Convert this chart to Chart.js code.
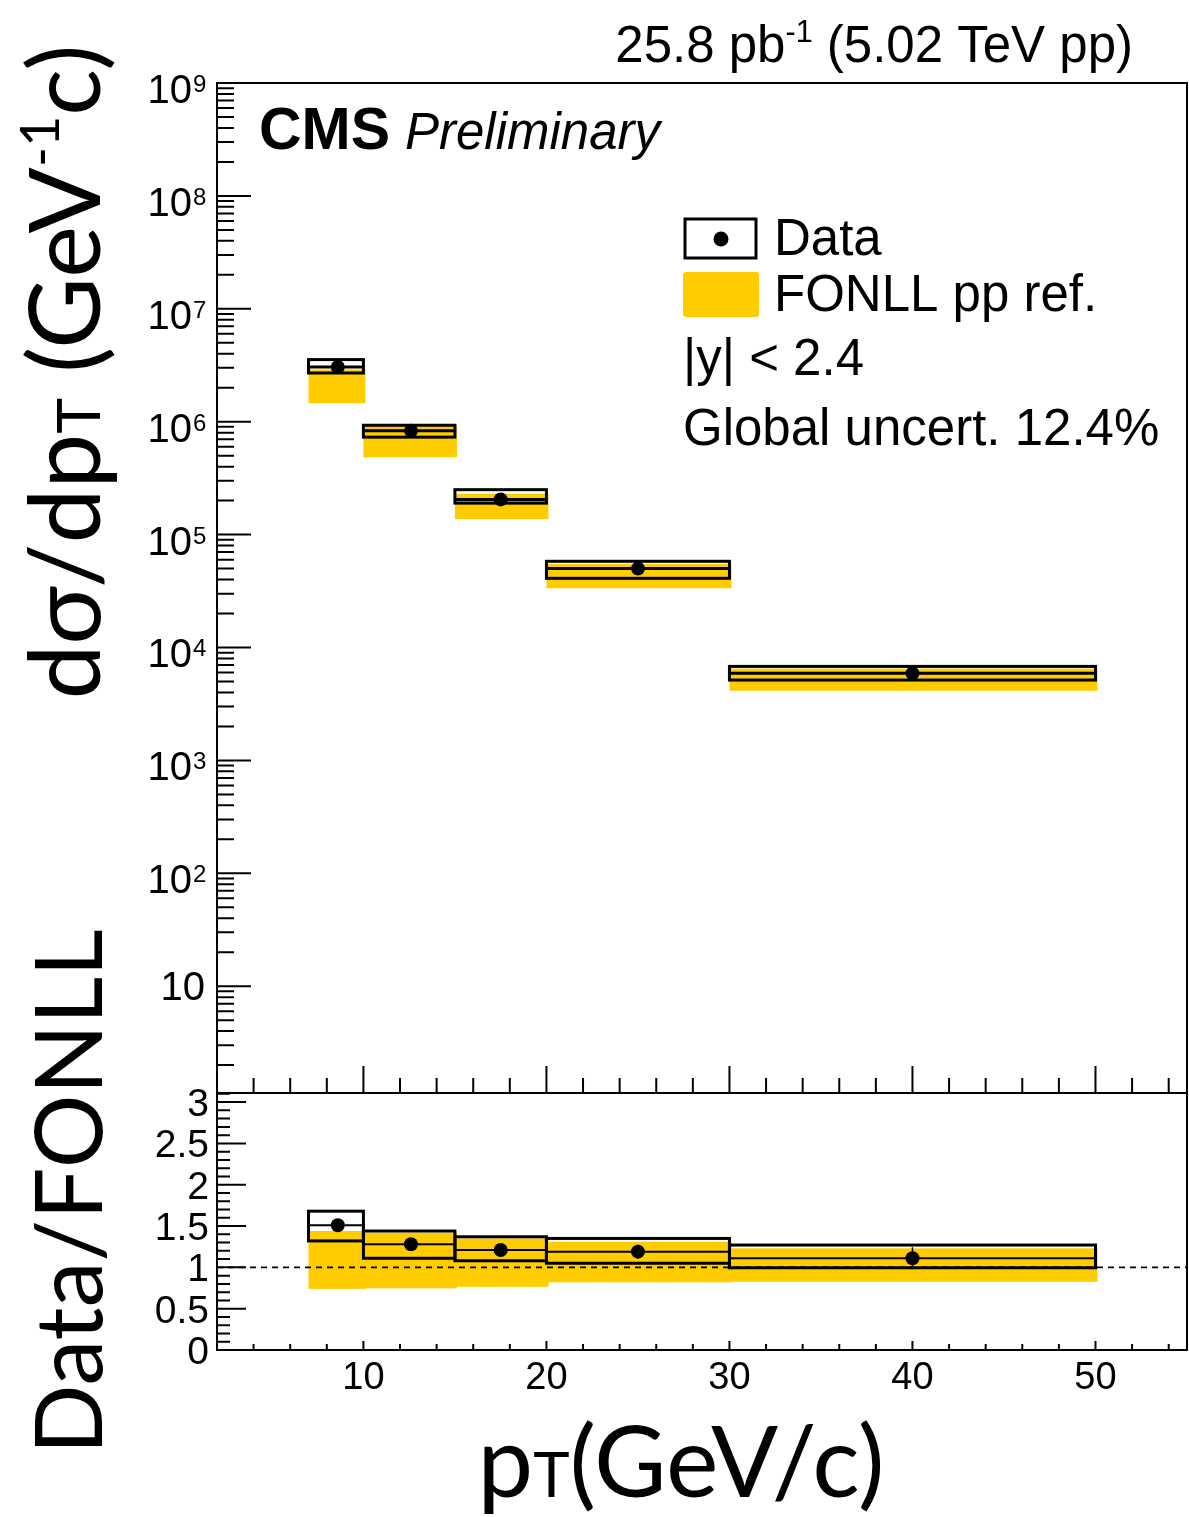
<!DOCTYPE html>
<html>
<head>
<meta charset="utf-8">
<script src="https://cdn.jsdelivr.net/npm/chart.js@4.4.1/dist/chart.umd.min.js"></script>
<style>
  html, body { margin: 0; padding: 0; background: #fff; }
  #wrap { position: relative; width: 1189px; height: 1517px; }
  canvas { position: absolute; left: 0; top: 0; }
</style>
</head>
<body>
<div id="wrap">
  <canvas id="spectrum" width="1189" height="1517"></canvas>
  <canvas id="ratio" width="1189" height="1517"></canvas>
</div>
<script>
// pT bins (GeV/c) and where the points sit inside them
const binLo = [7, 10, 15, 20, 30];
const binHi = [10, 15, 20, 30, 50];
const ptX = [8.6, 12.6, 17.5, 25, 40];

// dsigma/dpT, measured
const xsData = [3.05e6, 8.3e5, 2.05e5, 5.0e4, 5.9e3];
const xsSystLo = [2.7e6, 7.3e5, 1.9e5, 4.1e4, 5.15e3];
const xsSystHi = [3.55e6, 9.3e5, 2.5e5, 5.8e4, 6.8e3];
const statErr = [0.04, 0.04, 0.05, 0.07, 0.12];

// FONLL pp reference band
const fonllLo = [1.46e6, 4.84e5, 1.37e5, 3.35e4, 4.14e3];
const fonllHi = [2.9e6, 9.2e5, 2.3e5, 5.5e4, 6.5e3];

// Data / FONLL
const ratio = [1.51, 1.28, 1.21, 1.19, 1.11];
const ratioSystLo = [1.32, 1.11, 1.08, 1.05, 0.995];
const ratioSystHi = [1.68, 1.44, 1.37, 1.35, 1.27];
const fonllRatioLo = [0.74, 0.746, 0.765, 0.819, 0.826];
const fonllRatioHi = [1.44, 1.42, 1.35, 1.31, 1.23];

// axis labels
const xLabels = [10, 20, 30, 40, 50];
const yExponents = [1, 2, 3, 4, 5, 6, 7, 8, 9];
const ratioLabels = ['0', '0.5', '1', '1.5', '2', '2.5', '3'];

const FONT = '"Liberation Sans", Arial, sans-serif';
const TITLE_FONT = 'Lato, "Noto Sans", sans-serif';
const YELLOW = '#ffcc00';

function fontOf(r, size) {
  return (r.style || '') + ' ' + (size * (r.rel || 1)).toFixed(1) + 'px ' + (r.family || TITLE_FONT);
}
function runsWidth(ctx, runs, size) {
  let w = 0;
  for (const r of runs) { ctx.font = fontOf(r, size); w += ctx.measureText(r.t).width; }
  return w;
}
function drawRuns(ctx, runs, size, x, y) {
  for (const r of runs) {
    ctx.font = fontOf(r, size);
    ctx.fillText(r.t, x, y + (r.dy || 0) * size);
    x += ctx.measureText(r.t).width;
  }
}
// title scaled so it spans `len` pixels, centred on (cx, base); rotated for y titles
function drawTitle(ctx, runs, len, cx, base, rotated) {
  const size = 100 * len / runsWidth(ctx, runs, 100);
  const w = runsWidth(ctx, runs, size);
  ctx.save();
  ctx.fillStyle = '#000';
  ctx.textBaseline = 'alphabetic';
  ctx.textAlign = 'left';
  if (rotated) {
    ctx.translate(base, cx);
    ctx.rotate(-Math.PI / 2);
    drawRuns(ctx, runs, size, -w / 2, 0);
  } else {
    drawRuns(ctx, runs, size, cx - w / 2, base);
  }
  ctx.restore();
}

// yellow band, then boxes, central line and stat bar per bin
function drawBins(ctx, x, y, d, afterBand) {
  ctx.fillStyle = YELLOW;
  binLo.forEach((lo, i) => {
    const x0 = x.getPixelForValue(lo), x1 = x.getPixelForValue(binHi[i]);
    const y0 = y.getPixelForValue(d.bandHi[i]), y1 = y.getPixelForValue(d.bandLo[i]);
    ctx.fillRect(x0, y0, x1 - x0 + 2, y1 - y0);
  });
  if (afterBand) afterBand();
  ctx.strokeStyle = '#000';
  binLo.forEach((lo, i) => {
    const x0 = x.getPixelForValue(lo), x1 = x.getPixelForValue(binHi[i]);
    const yt = y.getPixelForValue(d.boxHi[i]), yb = y.getPixelForValue(d.boxLo[i]);
    ctx.lineWidth = 3;
    ctx.strokeRect(x0, yt, x1 - x0, yb - yt);
    const ym = y.getPixelForValue(d.val[i]);
    ctx.lineWidth = d.midWidth;
    ctx.beginPath(); ctx.moveTo(x0, ym); ctx.lineTo(x1, ym); ctx.stroke();
    const xc = x.getPixelForValue(ptX[i]);
    ctx.lineWidth = 1.5;
    ctx.beginPath();
    ctx.moveTo(xc, y.getPixelForValue(d.val[i] * (1 + statErr[i])));
    ctx.lineTo(xc, y.getPixelForValue(d.val[i] * (1 - statErr[i])));
    ctx.stroke();
  });
}

const spectrumMarks = {
  id: 'spectrumMarks',
  beforeDatasetsDraw(chart) {
    const {ctx, scales: {x, y}} = chart;
    ctx.save();
    drawBins(ctx, x, y, {bandLo: fonllLo, bandHi: fonllHi, boxLo: xsSystLo, boxHi: xsSystHi, val: xsData, midWidth: 3});
    ctx.restore();
  }
};

const ratioMarks = {
  id: 'ratioMarks',
  beforeDatasetsDraw(chart) {
    const {ctx, chartArea: a, scales: {x, y}} = chart;
    ctx.save();
    drawBins(ctx, x, y, {bandLo: fonllRatioLo, bandHi: fonllRatioHi, boxLo: ratioSystLo, boxHi: ratioSystHi, val: ratio, midWidth: 2}, () => {
      const y1 = y.getPixelForValue(1);
      ctx.strokeStyle = '#000';
      ctx.lineWidth = 1.8;
      ctx.setLineDash([6, 5]);
      ctx.beginPath(); ctx.moveTo(a.left, y1); ctx.lineTo(a.right, y1); ctx.stroke();
      ctx.setLineDash([]);
    });
    ctx.restore();
  }
};

const spectrumAxes = {
  id: 'spectrumAxes',
  afterDraw(chart) {
    const {ctx, chartArea: a, scales: {x, y}} = chart;
    ctx.save();
    ctx.strokeStyle = '#000';
    ctx.lineWidth = 2;
    ctx.strokeRect(a.left, a.top, a.right - a.left, a.bottom - a.top);
    ctx.beginPath();
    for (let e = 0; e <= 9; e++) {
      for (let k = 1; k <= 9; k++) {
        const v = k * Math.pow(10, e);
        if (v < y.min || v > y.max) continue;
        const py = y.getPixelForValue(v);
        ctx.moveTo(a.left, py); ctx.lineTo(a.left + (k === 1 ? 34 : 17), py);
      }
    }
    for (let v = 4; v <= 54; v += 2) {
      const px = x.getPixelForValue(v);
      ctx.moveTo(px, a.bottom); ctx.lineTo(px, a.bottom - (v % 10 === 0 ? 27 : 15));
    }
    ctx.stroke();

    // 10^n labels
    ctx.fillStyle = '#000';
    ctx.textBaseline = 'alphabetic';
    yExponents.forEach(n => {
      const py = y.getPixelForValue(Math.pow(10, n));
      if (n === 1) {
        ctx.textAlign = 'right';
        ctx.font = '40px ' + FONT;
        ctx.fillText('10', 205, py + 14);
        return;
      }
      ctx.textAlign = 'right';
      ctx.font = '40px ' + FONT;
      ctx.fillText('10', 192, py + 20);
      ctx.textAlign = 'left';
      ctx.font = '24px ' + FONT;
      ctx.fillText(String(n), 193, py + 9);
    });

    // luminosity label
    ctx.textAlign = 'left';
    const lumi = [{t: '25.8 pb', family: FONT}, {t: '-1', rel: 0.6, dy: -0.4, family: FONT}, {t: ' (5.02 TeV pp)', family: FONT}];
    drawRuns(ctx, lumi, 51, 1133 - runsWidth(ctx, lumi, 51), 62);

    ctx.font = 'bold 59px ' + FONT;
    ctx.fillText('CMS', 259, 149);
    ctx.font = 'italic 51px ' + FONT;
    ctx.fillText('Preliminary', 405, 149);

    // legend
    ctx.lineWidth = 3;
    ctx.strokeRect(685, 219, 71, 39);
    ctx.beginPath(); ctx.arc(721, 239, 7.5, 0, Math.PI * 2); ctx.fill();
    ctx.fillStyle = YELLOW;
    ctx.beginPath(); ctx.roundRect(683, 272, 76, 45, 3); ctx.fill();
    ctx.fillStyle = '#000';
    ctx.font = '51px ' + FONT;
    ctx.fillText('Data', 774, 255);
    ctx.fillText('FONLL pp ref.', 774, 311);
    ctx.fillText('|y| < 2.4', 683, 375);
    ctx.fillText('Global uncert. 12.4%', 683, 445);

    drawTitle(ctx, [{t: 'dσ/dp'}, {t: 'T', rel: 0.62}, {t: ' (GeV'}, {t: '-1', rel: 0.55, dy: -0.42}, {t: 'c)'}], 655, 372, 100, true);
    ctx.restore();
  }
};

const ratioAxes = {
  id: 'ratioAxes',
  afterDraw(chart) {
    const {ctx, chartArea: a, scales: {x, y}} = chart;
    ctx.save();
    ctx.strokeStyle = '#000';
    ctx.lineWidth = 2;
    ctx.strokeRect(a.left, a.top, a.right - a.left, a.bottom - a.top);
    ctx.beginPath();
    for (let i = 0; i <= 31; i++) {
      const py = y.getPixelForValue(i / 10);
      ctx.moveTo(a.left, py); ctx.lineTo(a.left + (i % 5 === 0 ? 29 : 13), py);
    }
    for (let v = 4; v <= 54; v += 2) {
      const px = x.getPixelForValue(v);
      ctx.moveTo(px, a.bottom); ctx.lineTo(px, a.bottom - (v % 10 === 0 ? 9 : 6));
    }
    ctx.stroke();

    ctx.fillStyle = '#000';
    ctx.textBaseline = 'alphabetic';
    ctx.font = '39px ' + FONT;
    ctx.textAlign = 'right';
    ratioLabels.forEach(t => ctx.fillText(t, 209, y.getPixelForValue(parseFloat(t)) + 14));
    ctx.font = '38px ' + FONT;
    ctx.textAlign = 'center';
    xLabels.forEach(v => ctx.fillText(String(v), x.getPixelForValue(v), 1389));

    drawTitle(ctx, [{t: 'Data/FONLL'}], 525, 1192, 102, true);
    drawTitle(ctx, [{t: 'p'}, {t: 'T', rel: 0.62}, {t: '(GeV/c)'}], 407, 681, 1497, false);
    ctx.restore();
  }
};

function points(vals) {
  return ptX.map((x, i) => ({x, y: vals[i]}));
}

function baseOptions(padding, yScale) {
  return {
    responsive: false,
    animation: false,
    devicePixelRatio: 1,
    events: [],
    layout: {padding, autoPadding: false},
    scales: {
      x: {type: 'linear', min: 2, max: 55, display: false},
      y: yScale
    },
    plugins: {legend: {display: false}, tooltip: {enabled: false}}
  };
}

new Chart(document.getElementById('spectrum'), {
  type: 'scatter',
  data: {
    datasets: [{
      label: 'Data',
      data: points(xsData),
      pointRadius: 7,
      pointBackgroundColor: '#000',
      pointBorderWidth: 0
    }]
  },
  options: baseOptions({left: 217, right: 2, top: 83, bottom: 424},
    {type: 'logarithmic', min: Math.pow(10, 0.054), max: 1e9, display: false}),
  plugins: [spectrumMarks, spectrumAxes]
});

new Chart(document.getElementById('ratio'), {
  type: 'scatter',
  data: {
    datasets: [{
      label: 'Data/FONLL',
      data: points(ratio),
      pointRadius: 7,
      pointBackgroundColor: '#000',
      pointBorderWidth: 0
    }]
  },
  options: baseOptions({left: 217, right: 2, top: 1093, bottom: 167},
    {type: 'linear', min: 0, max: 3.11, display: false}),
  plugins: [ratioMarks, ratioAxes]
});
</script>
</body>
</html>
